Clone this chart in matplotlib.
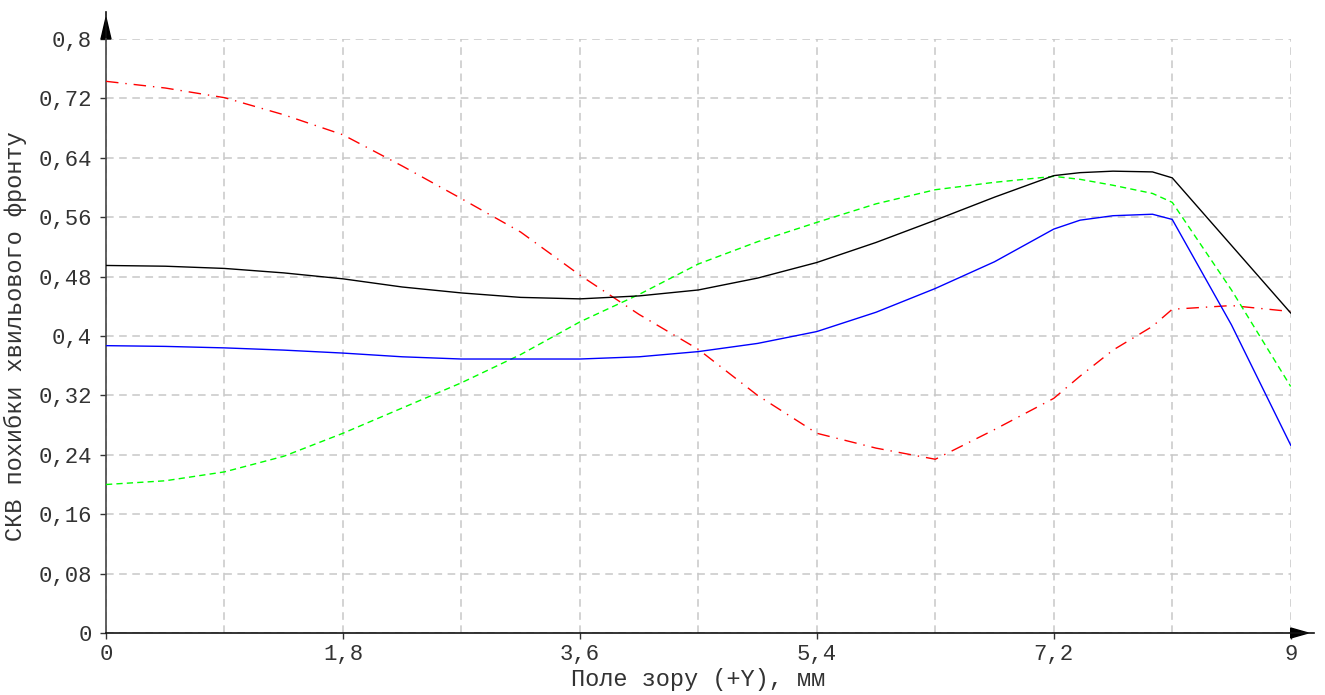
import matplotlib
matplotlib.use("Agg")
import matplotlib.pyplot as plt
from matplotlib.patches import Polygon

# Field position, mm
field_y = [0, 0.45, 0.9, 1.35, 1.8, 2.25, 2.7, 3.15, 3.6, 4.05, 4.5,
           4.95, 5.4, 5.85, 6.3, 6.75, 7.2, 7.4, 7.65, 7.95, 8.1, 8.55, 9]

# RMS wavefront error: polychromatic and per wavelength
rms_poly = [0.495, 0.494, 0.491, 0.485, 0.477, 0.466, 0.458, 0.452, 0.450, 0.454, 0.462,
            0.478, 0.499, 0.526, 0.556, 0.587, 0.616, 0.620, 0.622, 0.621, 0.613, 0.522, 0.431]
rms_blue = [0.387, 0.386, 0.384, 0.381, 0.377, 0.372, 0.369, 0.369, 0.369, 0.372, 0.379,
            0.390, 0.406, 0.432, 0.464, 0.500, 0.544, 0.556, 0.562, 0.564, 0.557, 0.415, 0.253]
rms_green = [0.200, 0.205, 0.217, 0.238, 0.269, 0.303, 0.337, 0.375, 0.419, 0.456, 0.497,
             0.527, 0.553, 0.578, 0.597, 0.607, 0.615, 0.611, 0.603, 0.592, 0.580, 0.462, 0.332]
rms_red = [0.743, 0.734, 0.721, 0.698, 0.671, 0.629, 0.585, 0.540, 0.482, 0.429, 0.382,
           0.320, 0.269, 0.249, 0.234, 0.274, 0.316, 0.346, 0.381, 0.413, 0.436, 0.441, 0.433]

x_ticks = [0, 1.8, 3.6, 5.4, 7.2, 9]
x_tick_labels = ["0", "1,8", "3,6", "5,4", "7,2", "9"]
x_minor = [0.9, 2.7, 4.5, 6.3, 8.1]
y_ticks = [0, 0.08, 0.16, 0.24, 0.32, 0.4, 0.48, 0.56, 0.64, 0.72, 0.8]
y_tick_labels = ["0", "0,08", "0,16", "0,24", "0,32", "0,4", "0,48", "0,56", "0,64", "0,72", "0,8"]

x_label = "Поле зору (+Y), мм"
y_label = "СКВ похибки хвильового фронту"

plt.rcParams["font.family"] = ["Liberation Mono", "DejaVu Sans Mono"]
text_color = "#333333"

fig = plt.figure(figsize=(13.25, 6.95), dpi=100)
ax = fig.add_axes([106 / 1325, 62 / 695, (1290.7 - 106) / 1325, 594 / 695])

ax.set_xlim(0, 9)
ax.set_ylim(0, 0.8)

ax.set_xticks(x_ticks)
ax.set_xticklabels(x_tick_labels)
ax.set_xticks(x_minor, minor=True)
ax.set_yticks(y_ticks)
ax.set_yticklabels(y_tick_labels)

ax.tick_params(axis="both", which="major", direction="out", length=4, width=1,
               color="#333333", labelsize=16, labelcolor=text_color)
ax.tick_params(axis="x", which="major", pad=4)
ax.tick_params(axis="y", which="major", pad=6)
ax.tick_params(axis="x", which="minor", length=0)

ax.grid(True, which="both", color="#c8c8c8", linewidth=1.1, linestyle=(0, (5, 3.6)))
ax.set_axisbelow(True)

for side in ("top", "right"):
    ax.spines[side].set_visible(False)
ax.spines["left"].set_color("#444444")
ax.spines["bottom"].set_color("#111111")
ax.spines["left"].set_linewidth(1.2)
ax.spines["bottom"].set_linewidth(1.2)

# curves
ax.plot(field_y, rms_red, color="#ff0000", linewidth=1.0, dashes=(9, 5, 1, 5), zorder=3)
ax.plot(field_y, rms_green, color="#00ff00", linewidth=1.0, dashes=(4.5, 3), zorder=3)
ax.plot(field_y, rms_blue, color="#0000ff", linewidth=1.0, zorder=4)
ax.plot(field_y, rms_poly, color="#000000", linewidth=1.0, zorder=5)

# axis arrows
ax.plot([0, 0], [1.0, 1.045], transform=ax.transAxes, color="#111111",
        linewidth=1.2, clip_on=False)
ax.add_patch(Polygon([(-0.0042, 1.0), (0.0042, 1.0), (0, 1.036)], closed=True,
                     transform=ax.transAxes, color="#000000", clip_on=False))
ax.plot([1.0, 1.0199], [0, 0], transform=ax.transAxes, color="#111111",
        linewidth=1.2, clip_on=False)
ax.add_patch(Polygon([(1.0, -0.0084), (1.0, 0.0084), (1.0148, 0)], closed=True,
                     transform=ax.transAxes, color="#000000", clip_on=False))

ax.set_xlabel(x_label, fontsize=17, color=text_color, labelpad=2)
ax.set_ylabel(y_label, fontsize=17, color=text_color, labelpad=8)

fig.savefig("out.png", dpi=100, facecolor="white")
